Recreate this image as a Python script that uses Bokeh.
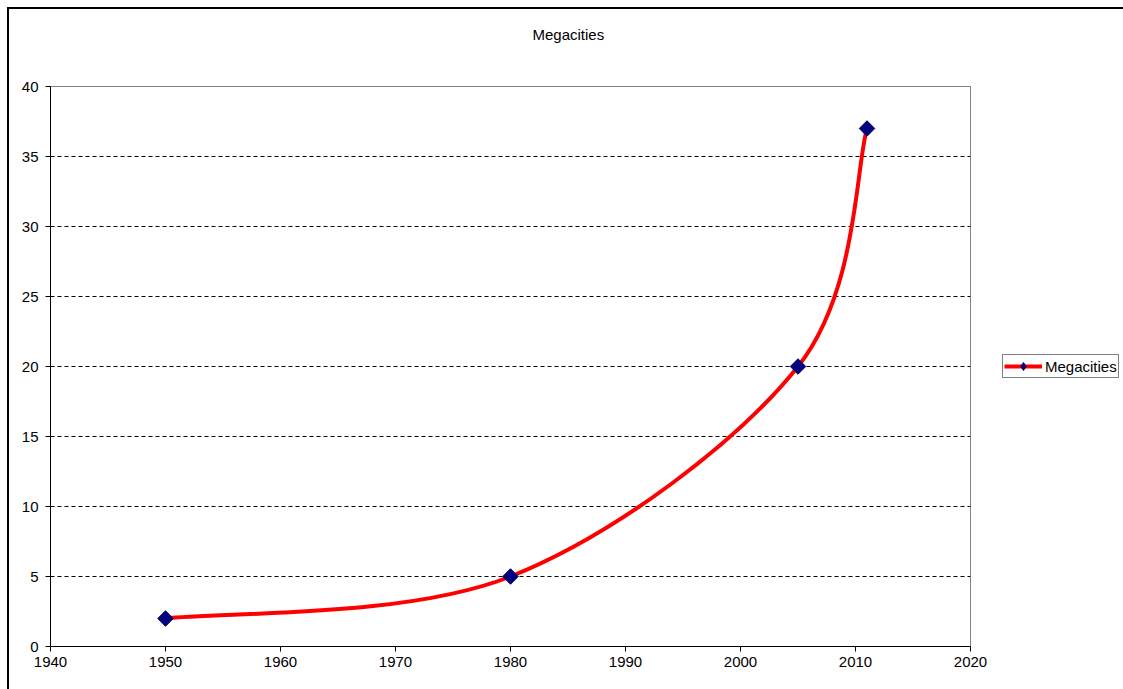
import math
from bokeh.plotting import figure
from bokeh.models import Range1d, FixedTicker, Legend, LegendItem, LinearAxis
from bokeh.embed import file_html
from bokeh.resources import INLINE

# ---- data ----
years = [1950, 1980, 2005, 2011]
megacities = [2, 5, 20, 37]
x_ticks = [1940, 1950, 1960, 1970, 1980, 1990, 2000, 2010, 2020]
y_ticks = [0, 5, 10, 15, 20, 25, 30, 35, 40]
series_name = "Megacities"
chart_title = "Megacities"

FONT = "Liberation Sans"

p = figure(frame_width=920, frame_height=560, output_backend="svg", toolbar_location=None,
           x_range=Range1d(1940, 2020), y_range=Range1d(0, 40),
           min_border_left=41, min_border_top=77, min_border_right=153, min_border_bottom=43)
p.styles = {"border-left": "2px solid #000", "border-top": "2px solid #000",
            "margin-left": "7px", "margin-top": "7px"}

xax = p.below[0]
yax = p.left[0]

p.title.text = chart_title
p.title.align = "left"
p.title.offset = 482
p.title.standoff = 10
p.title.text_font = FONT
p.title.text_font_size = "15px"
p.title.text_font_style = "normal"
p.title.text_color = "#000000"

p.outline_line_color = "#808080"
p.outline_line_width = 1
p.background_fill_color = "white"
p.border_fill_color = "white"

# axes
for ax in (xax, yax):
    ax.axis_line_color = "#000000"
    ax.axis_line_width = 1
    ax.major_tick_line_color = "#000000"
    ax.major_tick_in = 0
    ax.major_tick_out = 5
    ax.minor_tick_line_color = None
    ax.major_label_text_font = FONT
    ax.major_label_text_font_size = "15px"
    ax.major_label_text_color = "#000000"
xax.ticker = FixedTicker(ticks=x_ticks)
yax.ticker = FixedTicker(ticks=y_ticks)
xax.major_label_standoff = 5
yax.major_label_standoff = 7

# invisible spacer above the frame so the title sits higher
spacer = LinearAxis(ticker=FixedTicker(ticks=[x_ticks[-1]]), axis_line_color=None,
                    major_tick_line_color=None, minor_tick_line_color=None,
                    major_label_text_font_size="0px", major_label_text_alpha=0,
                    major_label_overrides={x_ticks[-1]: ""},
                    major_label_standoff=5,
                    major_tick_out=39, major_tick_in=0, minor_tick_out=0)
p.add_layout(spacer, "above")

p.xgrid.grid_line_color = None
p.ygrid.grid_line_color = "#000000"
p.ygrid.grid_line_dash = "4 3"
p.ygrid.grid_line_width = 1

# smoothed line (Excel-style Bezier smoothing computed from the data points)
n = len(years)
x0s, y0s, x1s, y1s, cx0s, cy0s, cx1s, cy1s = [], [], [], [], [], [], [], []
for i in range(n - 1):
    pa = (years[max(i - 1, 0)], megacities[max(i - 1, 0)])
    pb = (years[i], megacities[i])
    pc = (years[i + 1], megacities[i + 1])
    pd = (years[min(i + 2, n - 1)], megacities[min(i + 2, n - 1)])
    x0s.append(pb[0]); y0s.append(pb[1])
    x1s.append(pc[0]); y1s.append(pc[1])
    cx0s.append(pb[0] + (pc[0] - pa[0]) / 6.0)
    cy0s.append(pb[1] + (pc[1] - pa[1]) / 6.0)
    cx1s.append(pc[0] - (pd[0] - pb[0]) / 6.0)
    cy1s.append(pc[1] - (pd[1] - pb[1]) / 6.0)

curve = p.bezier(x0=x0s, y0=y0s, x1=x1s, y1=y1s, cx0=cx0s, cy0=cy0s, cx1=cx1s, cy1=cy1s,
                 line_color="#ff0000", line_width=4)
pts = p.scatter(x=years, y=megacities, marker="square", angle=math.pi / 4, size=11,
                fill_color="#000080", line_color="#000066", line_width=1)
# legend key marker (legend glyphs ignore rotation, so use a diamond there)
key_marker = p.scatter(x=years, y=megacities, marker="diamond", size=13,
                       fill_color="#000080", line_color="#000066", line_width=1,
                       visible=False)

legend = Legend(items=[LegendItem(label=series_name, renderers=[curve, key_marker])],
                location=(32, 268))
legend.label_text_font = FONT
legend.label_text_font_size = "15px"
legend.label_text_color = "#000000"
legend.border_line_color = "#000000"
legend.border_line_width = 1
legend.padding = 1
legend.spacing = 0
legend.margin = 0
legend.glyph_width = 38
legend.glyph_height = 20
legend.label_height = 18
legend.label_standoff = 3
legend.background_fill_alpha = 1
legend.inactive_fill_alpha = 0
p.add_layout(legend, "right")

open("out.html", "w").write(file_html(p, INLINE))
